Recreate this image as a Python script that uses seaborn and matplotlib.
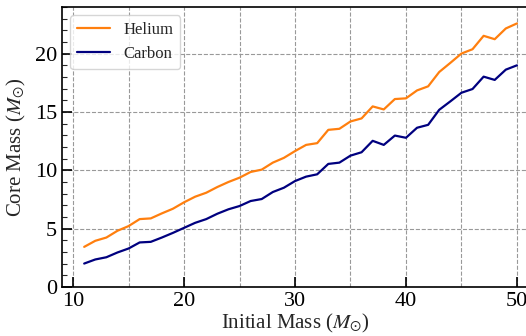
import numpy as np
import pandas as pd
import seaborn as sns
import matplotlib
matplotlib.use("Agg")
import matplotlib.pyplot as plt
from matplotlib.ticker import MultipleLocator

initial_mass = list(range(11, 51))
helium = [3.44, 3.96, 4.24, 4.82, 5.22, 5.82, 5.88, 6.31, 6.71, 7.26,
          7.74, 8.08, 8.57, 9.00, 9.37, 9.86, 10.06, 10.66, 11.07, 11.65,
          12.18, 12.33, 13.47, 13.56, 14.19, 14.45, 15.48, 15.22, 16.11, 16.17,
          16.85, 17.20, 18.43, 19.21, 20.01, 20.38, 21.53, 21.24, 22.16, 22.59]
carbon = [2.01, 2.36, 2.55, 2.96, 3.30, 3.82, 3.87, 4.24, 4.64, 5.07,
          5.50, 5.82, 6.28, 6.66, 6.94, 7.37, 7.54, 8.14, 8.51, 9.08,
          9.46, 9.66, 10.55, 10.66, 11.26, 11.55, 12.53, 12.18, 12.98, 12.79,
          13.65, 13.90, 15.19, 15.91, 16.65, 16.97, 18.03, 17.75, 18.63, 19.00]
series_names = ["Helium", "Carbon"]
colors = ["#ff7f0e", "#00007f"]

df = pd.DataFrame({
    "mass": initial_mass * 2,
    "core": helium + carbon,
    "series": [series_names[0]] * len(initial_mass) + [series_names[1]] * len(initial_mass),
})

sns.set_theme(style="white")
plt.rcParams["font.family"] = ["Liberation Serif", "DejaVu Serif"]
plt.rcParams["mathtext.fontset"] = "stix"

fig = plt.figure(figsize=(5.26, 3.36), dpi=100)
ax = fig.add_axes([62 / 526, 1 - 287 / 336, 466 / 526, 280 / 336])

sns.lineplot(data=df, x="mass", y="core", hue="series", palette=colors,
             linewidth=1.6, ax=ax)

ax.set_xlim(9, 51)
ax.set_ylim(0, 24)
ax.xaxis.set_major_locator(MultipleLocator(10))
ax.xaxis.set_minor_locator(MultipleLocator(5))
ax.yaxis.set_major_locator(MultipleLocator(5))
ax.yaxis.set_minor_locator(MultipleLocator(1))

ax.tick_params(axis="both", which="major", direction="in", length=7, width=1.2,
               labelsize=16, colors="black", bottom=True, left=True, top=False, right=False)
ax.tick_params(axis="y", which="minor", direction="in", length=3.5, width=0.8, left=True)
ax.tick_params(axis="x", which="minor", length=0)

ax.grid(True, axis="x", which="both", linestyle="--", color="#999999", linewidth=0.8)
ax.grid(True, axis="y", which="major", linestyle="--", color="#999999", linewidth=0.8)
ax.set_axisbelow(True)

for side in ["left", "top", "bottom", "right"]:
    ax.spines[side].set_color("black")
    ax.spines[side].set_linewidth(1.2)
ax.spines["right"].set_visible(False)

ax.set_xlabel(r"Initial Mass ($M_{\odot}$)", fontsize=15, labelpad=1)
ax.set_ylabel(r"Core Mass ($M_{\odot}$)", fontsize=15, labelpad=5)

leg = ax.legend(loc="upper left", fontsize=12, frameon=True, title=None)
leg.get_frame().set_edgecolor("#cccccc")

fig.savefig("out.png", dpi=100)
